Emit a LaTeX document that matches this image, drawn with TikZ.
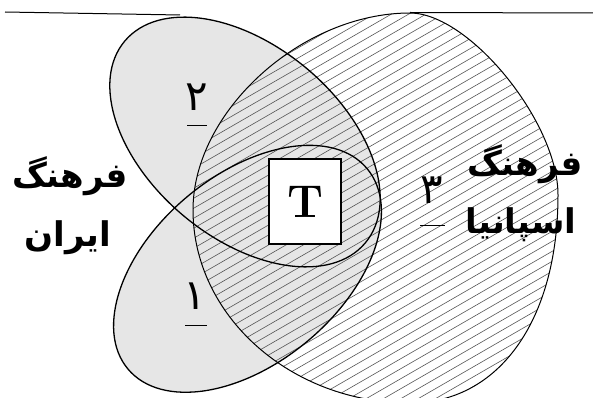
\documentclass[tikz,border=0pt]{standalone}
\usepackage{fontspec}
\newfontfamily\arabicfont[Script=Arabic,BoldFont={DejaVu Sans Bold}]{DejaVu Sans}
\TeXXeTstate=1
\definecolor{greyfill}{HTML}{E6E6E6}
\definecolor{hatchc}{HTML}{555555}
\def\ShCircle{(193,210) .. controls (193,111.5) and (301.5,13) .. (410,13) .. controls (469,13) and (558,122) .. (558,195) .. controls (558,320) and (499,403) .. (410,403) .. controls (291,403) and (193,316) .. cycle}
\begin{document}
\begin{tikzpicture}[x=1pt,y=-1pt,
  upperell/.style={rotate around={-40:(245,142)}},
  lowerell/.style={rotate around={40:(247.5,268.8)}},
  outline/.style={line width=1pt,black},
  leftline/.style={line width=1.3pt,black},
  hatchline/.style={line width=0.6pt,hatchc},
  rule/.style={line width=1pt,black},
  arab/.style={font=\arabicfont\bfseries\fontsize{34}{40}\selectfont,inner sep=0pt},
  digit/.style={font=\arabicfont\fontsize{42}{48}\selectfont,inner sep=0pt},
  tbox/.style={draw,line width=2pt,fill=white,minimum width=72pt,minimum height=85pt,inner sep=0pt,font=\bfseries\fontsize{46}{50}\selectfont}]
\useasboundingbox (0,0) rectangle (593,398);
\clip (0,0) rectangle (593,398);
% top rule
\coordinate (r1a) at (5,12);
\coordinate (r1b) at (180,15);
\coordinate (r2a) at (410,12.5);
\coordinate (r2b) at (593,13);
\draw[rule] (r1a) -- (r1b);
\draw[rule] (r2a) -- (r2b);
% grey fill of the two left ellipses
\fill[greyfill,upperell] (245,142) ellipse (157 and 96);
\fill[greyfill,lowerell] (247.5,268.8) ellipse (156 and 94);
% hatching of the big circle
\begin{scope}
  \clip \ShCircle;
  \foreach \c in {0,10,...,900} \draw[hatchline] (0,\c) -- ++(700,-404);
\end{scope}
% outlines
\draw[outline] \ShCircle;
\draw[leftline,upperell] (245,142) ellipse (157 and 96);
\draw[leftline,lowerell] (247.5,268.8) ellipse (156 and 94);
% T box
\node[tbox] (T) at (305,201.5) {T};
% labels
\node[arab] (fl1) at (70,176) {\beginR فرهنگ\endR};
\node[arab] (fl2) at (68,238) {\beginR ایران\endR};
\node[arab] (fr1) at (525,164) {\beginR فرهنگ\endR};
\node[arab] (fr2) at (521,225) {\beginR اسپانیا\endR};
\node[digit] (d2) at (197,97) {\beginR ۲\endR};
\node[digit] (d1) at (195,296) {\beginR ۱\endR};
\node[digit] (d3) at (432,190) {\beginR ۳\endR};
\coordinate (u2a) at (187,126); \coordinate (u2b) at (207,126);
\coordinate (u1a) at (185,325); \coordinate (u1b) at (207,325);
\coordinate (u3a) at (420,225); \coordinate (u3b) at (445,225);
\draw[rule] (u2a) -- (u2b);
\draw[rule] (u1a) -- (u1b);
\draw[rule] (u3a) -- (u3b);
\end{tikzpicture}
\end{document}
